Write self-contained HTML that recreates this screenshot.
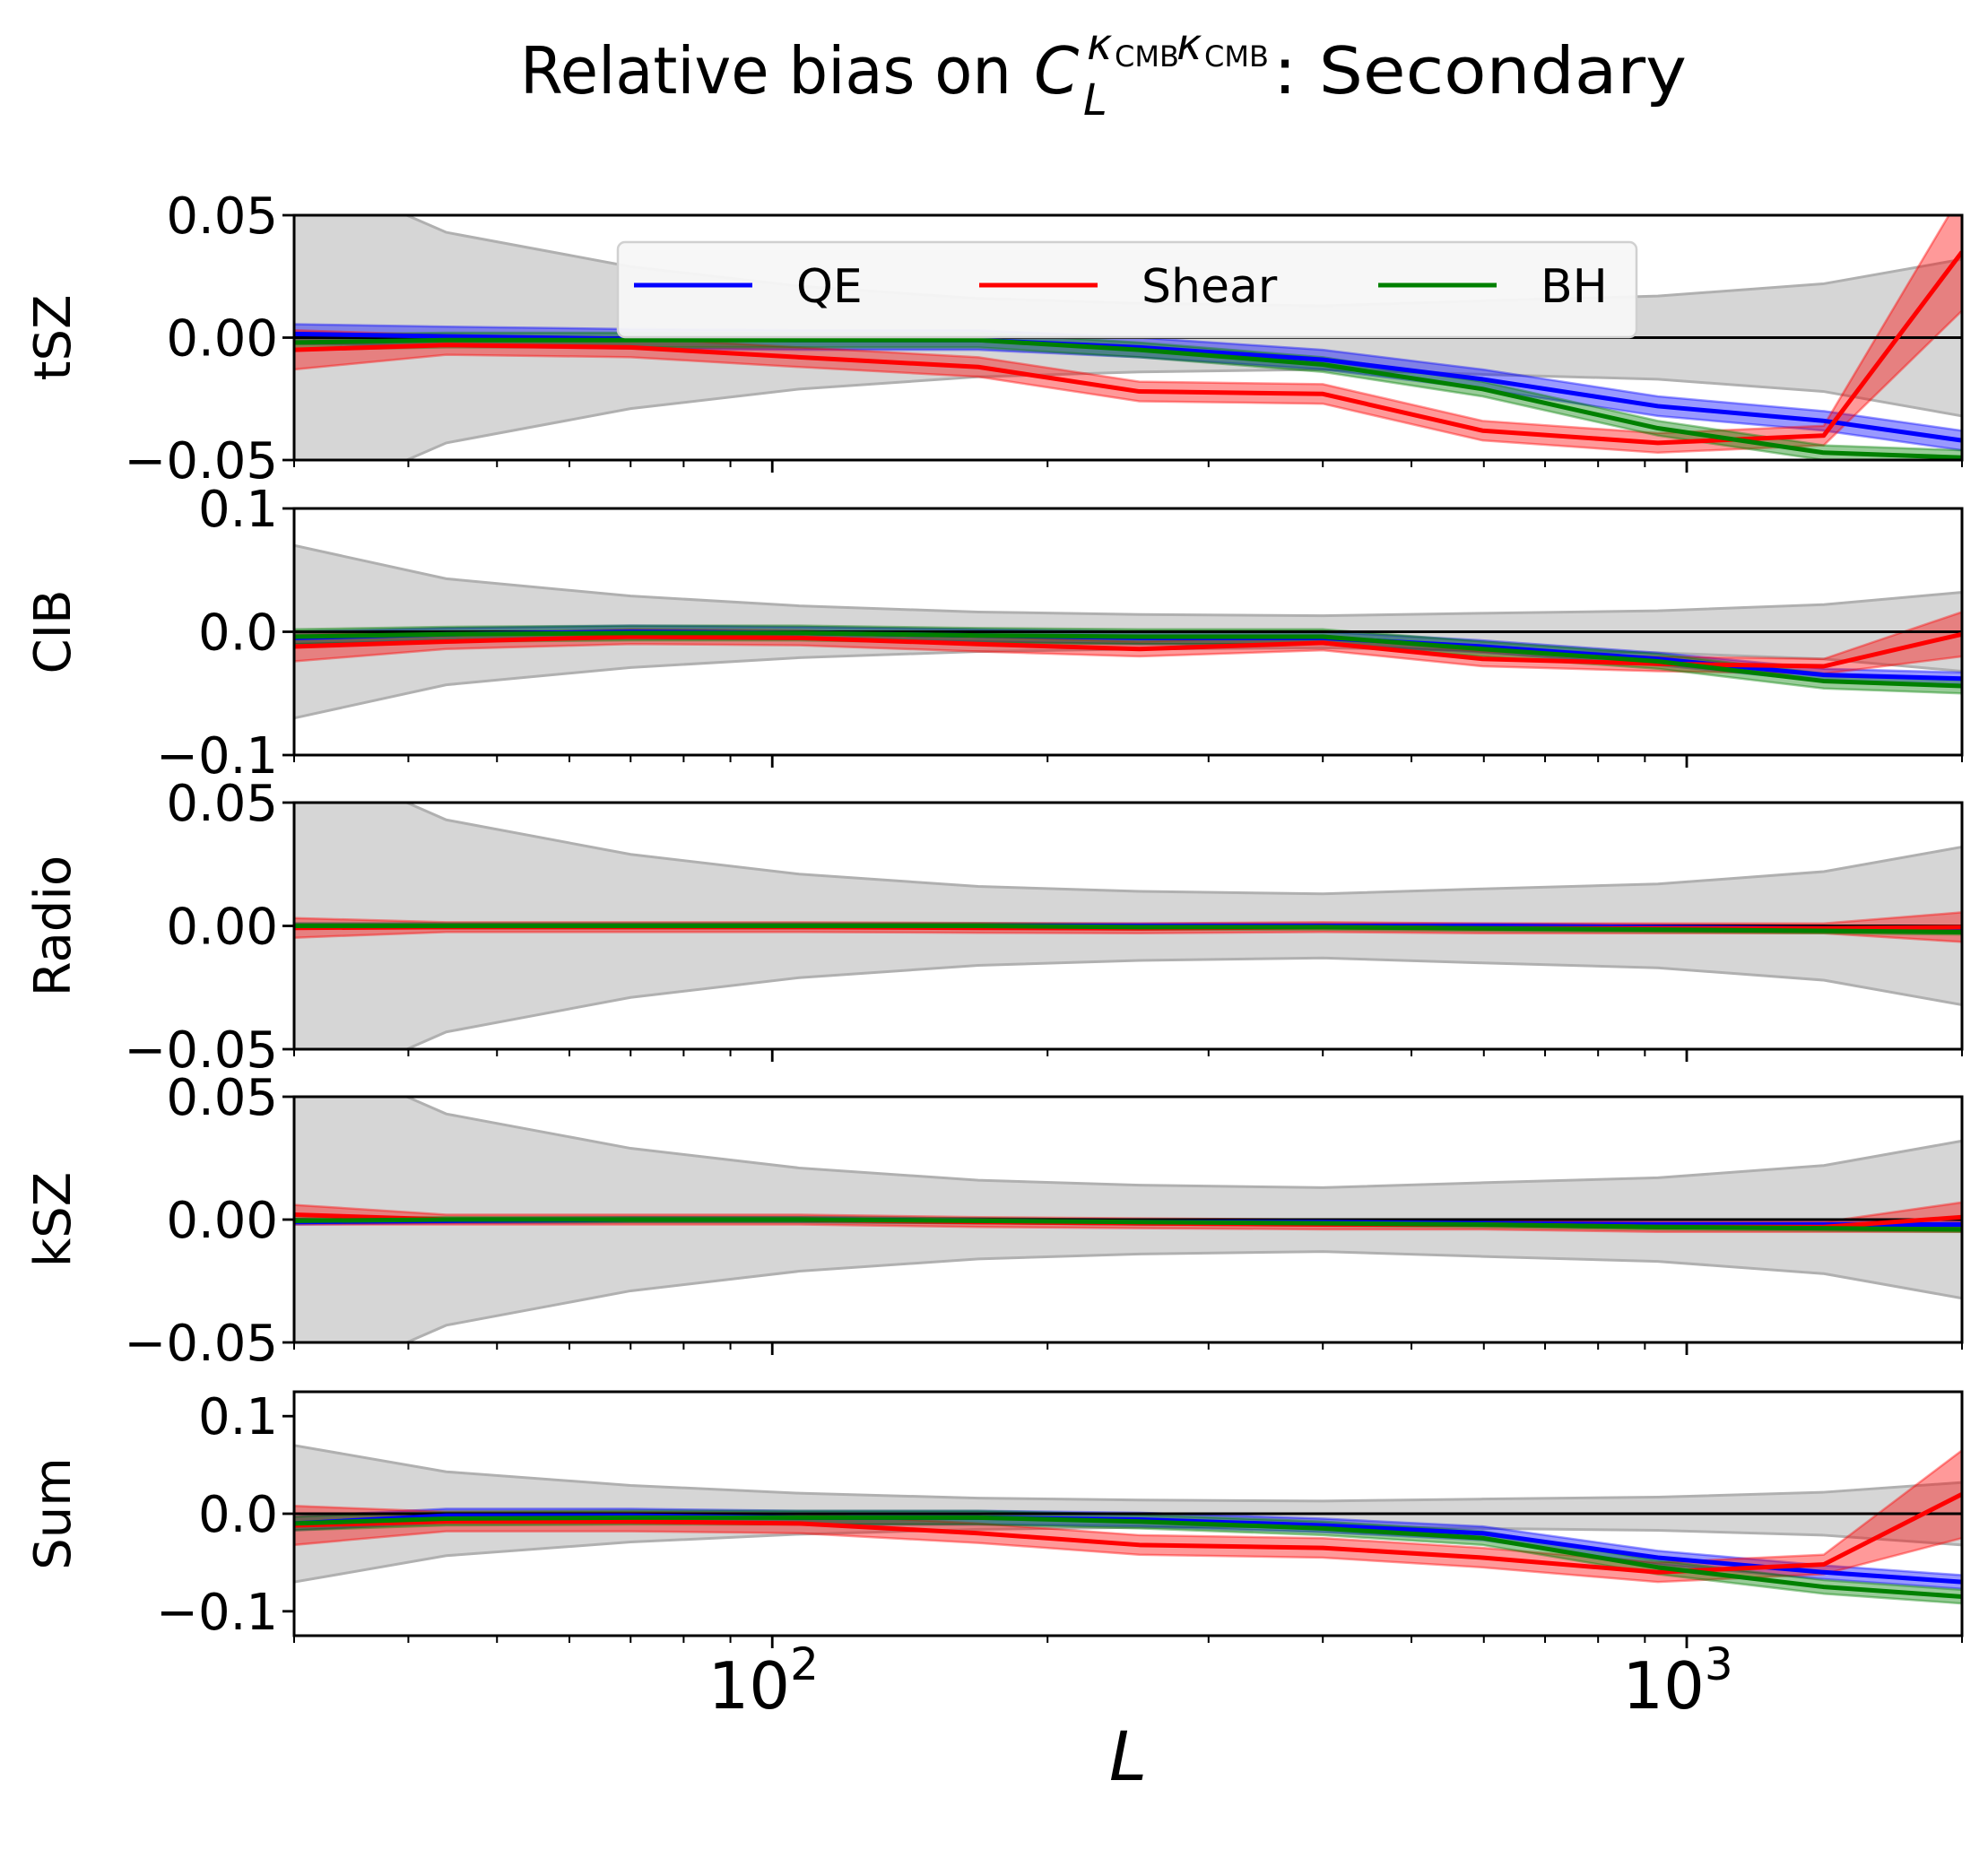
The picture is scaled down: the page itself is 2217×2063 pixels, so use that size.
<!DOCTYPE html>
<html><head><meta charset="utf-8"><style>
body{margin:0;background:#fff}
svg{display:block;font-family:"DejaVu Sans","Liberation Sans",sans-serif}
</style></head><body>
<svg id="chart" width="2217" height="2063" viewBox="0 0 2217 2063" xmlns="http://www.w3.org/2000/svg">
<g>
<text x="1128" y="104" font-size="72" text-anchor="end" textLength="548" lengthAdjust="spacingAndGlyphs">Relative bias on</text>
<text x="1153" y="104" font-size="72" font-style="italic" font-family="DejaVu Sans,sans-serif">C</text>
<text x="1208" y="128" font-size="48" font-style="italic">L</text>
<text x="1212" y="66" font-size="48" font-style="italic">κ</text>
<text x="1243" y="74" font-size="32">CMB</text>
<text x="1312" y="66" font-size="48" font-style="italic">κ</text>
<text x="1343" y="74" font-size="32">CMB</text>
<text x="1420" y="104" font-size="72" textLength="461" lengthAdjust="spacingAndGlyphs">: Secondary</text>
</g>
</svg>
<script>
const ells=[30,44,70,107,168,252,400,598,930,1412,2000];
const sigma=[0.07,0.043,0.029,0.021,0.016,0.014,0.013,0.015,0.017,0.022,0.032];
const panelNames=["tSZ","CIB","Radio","kSZ","Sum"];
const tszQE=[0.0015,0.0005,-0.0005,-0.001,-0.001,-0.004,-0.009,-0.017,-0.028,-0.034,-0.042];
const tszShear=[-0.005,-0.003,-0.004,-0.008,-0.012,-0.022,-0.023,-0.038,-0.043,-0.040,0.035];
const tszBH=[-0.002,-0.001,-0.001,-0.001,-0.001,-0.005,-0.011,-0.021,-0.037,-0.047,-0.049];
const cibQE=[-0.005,-0.002,0,-0.001,-0.003,-0.005,-0.005,-0.012,-0.022,-0.035,-0.038];
const cibShear=[-0.012,-0.008,-0.004,-0.005,-0.010,-0.014,-0.009,-0.022,-0.026,-0.028,-0.002];
const cibBH=[-0.004,-0.002,-0.001,-0.001,-0.003,-0.004,-0.004,-0.014,-0.024,-0.040,-0.044];
const radioQE=[0,0,0,0,0,0,0,0,-0.0005,-0.001,-0.001];
const radioShear=[-0.0008,-0.0005,-0.0005,-0.0005,-0.0008,-0.001,-0.0005,-0.001,-0.001,-0.001,-0.0005];
const radioBH=[0,0,0,0,0,-0.0005,-0.0005,-0.001,-0.0015,-0.002,-0.0025];
const kszQE=[-0.001,-0.0005,0,0,-0.0005,-0.001,-0.001,-0.0015,-0.002,-0.002,-0.002];
const kszShear=[0.002,0,0,0,-0.001,-0.0015,-0.002,-0.002,-0.003,-0.003,0.001];
const kszBH=[-0.0005,0,0,0,-0.0005,-0.001,-0.0015,-0.002,-0.003,-0.0035,-0.004];
const sumQE=[-0.010,-0.002,-0.002,-0.004,-0.004,-0.006,-0.012,-0.020,-0.045,-0.060,-0.070];
const sumShear=[-0.012,-0.008,-0.008,-0.010,-0.020,-0.032,-0.035,-0.045,-0.060,-0.052,0.020];
const sumBH=[-0.010,-0.005,-0.004,-0.004,-0.004,-0.008,-0.015,-0.025,-0.055,-0.075,-0.085];
const tickLabels=[["0.05","0.00","\u22120.05"],["0.1","0.0","\u22120.1"],["0.05","0.00","\u22120.05"],["0.05","0.00","\u22120.05"],["0.1","0.0","\u22120.1"]];
const tickVals=[[0.05,0,-0.05],[0.1,0,-0.1],[0.05,0,-0.05],[0.05,0,-0.05],[0.1,0,-0.1]];
const yRanges=[[-0.05,0.05],[-0.1,0.1],[-0.05,0.05],[-0.05,0.05],[-0.125,0.125]];

const NS="http://www.w3.org/2000/svg";
const svg=document.getElementById('chart');
const X0=328,X1=2188,LMIN=30,LMAX=2000;
const xs=l=>X0+(Math.log10(l)-Math.log10(LMIN))/(Math.log10(LMAX)-Math.log10(LMIN))*(X1-X0);
const panels=[[240,513],[567,842],[895,1170],[1223,1497],[1552,1824]];
const data=[[tszQE,tszShear,tszBH],[cibQE,cibShear,cibBH],[radioQE,radioShear,radioBH],[kszQE,kszShear,kszBH],[sumQE,sumShear,sumBH]];
const bandW=[[0.004,0.004,0.003],[0.005,0.006,0.006],[0.001,0.002,0.001],[0.001,0.002,0.001],[0.007,0.01,0.007]];
const colors=["#0000ff","#ff0000","#008000"];
const seriesNames=["qe","shear","bh"];
function el(tag,attrs,parent){const e=document.createElementNS(NS,tag);for(const k in attrs)e.setAttribute(k,attrs[k]);(parent||svg).appendChild(e);return e;}
function band(lo,hi,ys){let d="";ells.forEach((l,i)=>{d+=(i?"L":"M")+xs(l)+","+ys(hi[i]);});for(let i=ells.length-1;i>=0;i--)d+="L"+xs(ells[i])+","+ys(lo[i]);return d+"Z";}
function line(v,ys){return ells.map((l,i)=>(i?"L":"M")+xs(l)+","+ys(v[i])).join("");}
panels.forEach((p,pi)=>{
  const [top,bot]=p,[ymin,ymax]=yRanges[pi];
  const ys=v=>top+(ymax-v)/(ymax-ymin)*(bot-top);
  const g=el('g',{'clip-path':'url(#clip'+pi+')'});
  
  
  const cp=el('clipPath',{id:'clip'+pi});
  el('rect',{x:X0,y:top,width:X1-X0,height:bot-top},cp);
  const s=sigma;
  const gb=el('path',{d:band(s.map(v=>-v),s,ys),fill:'#d6d6d6',stroke:'#b0b0b0','stroke-width':3},g);
  
  
  data[pi].forEach((v,si)=>{
    const w=bandW[pi][si];
    const f=i=>(i==0&&si==1?2:1)*(i==10&&si==1?(pi==0?6:(pi==4?4.5:3)):1);
    const lo=v.map((x,i)=>x-w*f(i));
    const hi=v.map((x,i)=>x+w*f(i));
    const b=el('path',{d:band(lo,hi,ys),fill:colors[si],'fill-opacity':0.4,stroke:colors[si],'stroke-opacity':0.4,'stroke-width':2.5},g);
    
    
  });
  const z=el('line',{x1:X0,x2:X1,y1:ys(0),y2:ys(0),stroke:'#000','stroke-width':3},g);
  
  
  data[pi].forEach((v,si)=>{
    const l=el('path',{d:line(v,ys),fill:'none',stroke:colors[si],'stroke-width':5,'stroke-linejoin':'round'},g);
    
    
  });
  const fr=el('rect',{x:X0,y:top,width:X1-X0,height:bot-top,fill:'none',stroke:'#000','stroke-width':3});
  
  
  tickVals[pi].forEach((v,ti)=>{
    el('line',{x1:X0-13,x2:X0,y1:ys(v),y2:ys(v),stroke:'#000','stroke-width':2.8});
    const t=el('text',{x:X0-18,y:ys(v)+20,'font-size':56,'text-anchor':'end'});
    t.textContent=tickLabels[pi][ti];
    
    
  });
  for(let d=10;d<=1000;d*=10)for(let k=1;k<10;k++){const l=d*k;if(l<LMIN||l>LMAX)continue;
    el('line',{x1:xs(l),x2:xs(l),y1:bot,y2:bot+(k==1?14:8),stroke:'#000','stroke-width':k==1?2.8:2});}
  el('line',{x1:xs(2000),x2:xs(2000),y1:bot,y2:bot+8,stroke:'#000','stroke-width':2});
  const yl=el('text',{x:0,y:0,'font-size':56,'text-anchor':'middle',transform:`translate(78,${(top+bot)/2}) rotate(-90)`});
  yl.textContent=panelNames[pi];
  
  
});
[[100,"2"],[1000,"3"]].forEach(([l,e])=>{
  const t=el('text',{x:xs(l)-10,y:1905,'font-size':72,'text-anchor':'middle'});
  t.innerHTML='10<tspan font-size="50" dy="-32">'+e+'</tspan>';
  
  
});
const xl=el('text',{x:1258,y:1985,'font-size':76,'font-style':'italic','text-anchor':'middle'});
xl.textContent='L';


const lg=el('g',{});


el('rect',{x:689,y:270,width:1136,height:106,rx:8,fill:'#f7f7f7','fill-opacity':0.95,stroke:'#d0d0d0','stroke-width':2.5},lg);
[["QE",707,888],["Shear",1092,1273],["BH",1537,1718]].forEach(([n,lx,tx],i)=>{
  const it=el('line',{x1:lx,x2:lx+132,y1:318,y2:318,stroke:colors[i],'stroke-width':5},lg);
  
  
  const t=el('text',{x:tx,y:337,'font-size':52},lg);
  t.textContent=n;
  
  
});
</script>
</body></html>
